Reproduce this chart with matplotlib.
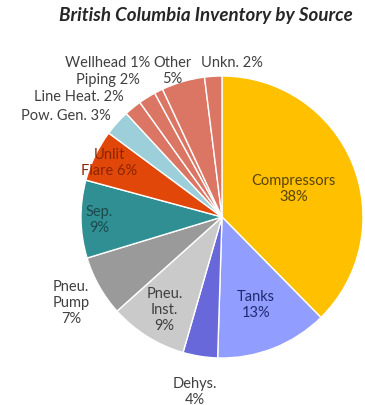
import numpy as np
import matplotlib.pyplot as plt

# values (percent, clockwise from 12 o'clock)
sources = ['Compressors', 'Tanks', 'Dehys.', 'Pneu. Inst.', 'Pneu. Pump', 'Sep.',
           'Unlit Flare', 'Pow. Gen.', 'Line Heat.', 'Piping', 'Wellhead', 'Other', 'Unkn.']
shares = [38, 13, 4, 9, 7, 9, 6, 3, 2, 2, 1, 5, 2]
label_text = ['Compressors\n38%', 'Tanks\n13%', 'Dehys.\n4%', 'Pneu.\nInst.\n9%',
              'Pneu.\nPump\n7%', 'Sep.\n9%', 'Unlit\nFlare 6%', 'Pow. Gen. 3%',
              'Line Heat. 2%', 'Piping 2%', 'Wellhead 1%', 'Other\n5%', 'Unkn. 2%']

colors = ['#FFC000', '#929EFF', '#6868DA', '#CACACA', '#9A9A9A', '#2F8F93',
          '#E2470A', '#9CCFDA', '#DC7664', '#DC7664', '#DC7664', '#DC7664', '#DC7664']
text_colors = ['#5A4300', '#1E2A6E', '#404040', '#404040', '#404040', '#1C4A4C',
               '#8B2500', '#404040', '#404040', '#404040', '#404040', '#404040', '#404040']

# label radius (in pie radii) for labels placed along the wedge middle
label_r = [0.55, 0.66, 1.25, 0.77, 1.23, 0.87, 0.89, None, None, None, None, None, None]
# the crowded small slices get their labels placed by hand (x, y, ha)
manual_pos = {7: (-0.79, 0.72, 'right'), 8: (-0.70, 0.86, 'right'),
              9: (-0.58, 0.98, 'right'), 10: (-0.51, 1.10, 'right'),
              11: (-0.35, 1.04, 'center'), 12: (0.07, 1.10, 'center')}

plt.rcParams['font.family'] = ['Lato', 'DejaVu Sans']

fig = plt.figure(figsize=(3.65, 4.06), dpi=100)
ax = fig.add_axes([81 / 365, 47 / 406, 282 / 365, 282 / 406])

wedges, _ = ax.pie(shares, colors=colors, startangle=90, counterclock=False,
                   radius=1, wedgeprops={'edgecolor': 'white', 'linewidth': 1})
ax.set_xlim(-1, 1)
ax.set_ylim(-1, 1)
ax.axis('off')

for i, w in enumerate(wedges):
    if i in manual_pos:
        x, y, ha = manual_pos[i]
    else:
        ang = np.deg2rad((w.theta1 + w.theta2) / 2)
        x = label_r[i] * np.cos(ang)
        y = label_r[i] * np.sin(ang)
        ha = 'center'
    ax.text(x, y, label_text[i], ha=ha, va='center', fontsize=10.5,
            color=text_colors[i], linespacing=1.2, clip_on=False)

fig.text(206 / 365, 1 - 15 / 406, 'British Columbia Inventory by Source',
         ha='center', va='center', fontsize=13.5, fontweight='bold',
         fontstyle='italic', color='#262626')

fig.savefig('out.png', dpi=100)
plt.close(fig)
